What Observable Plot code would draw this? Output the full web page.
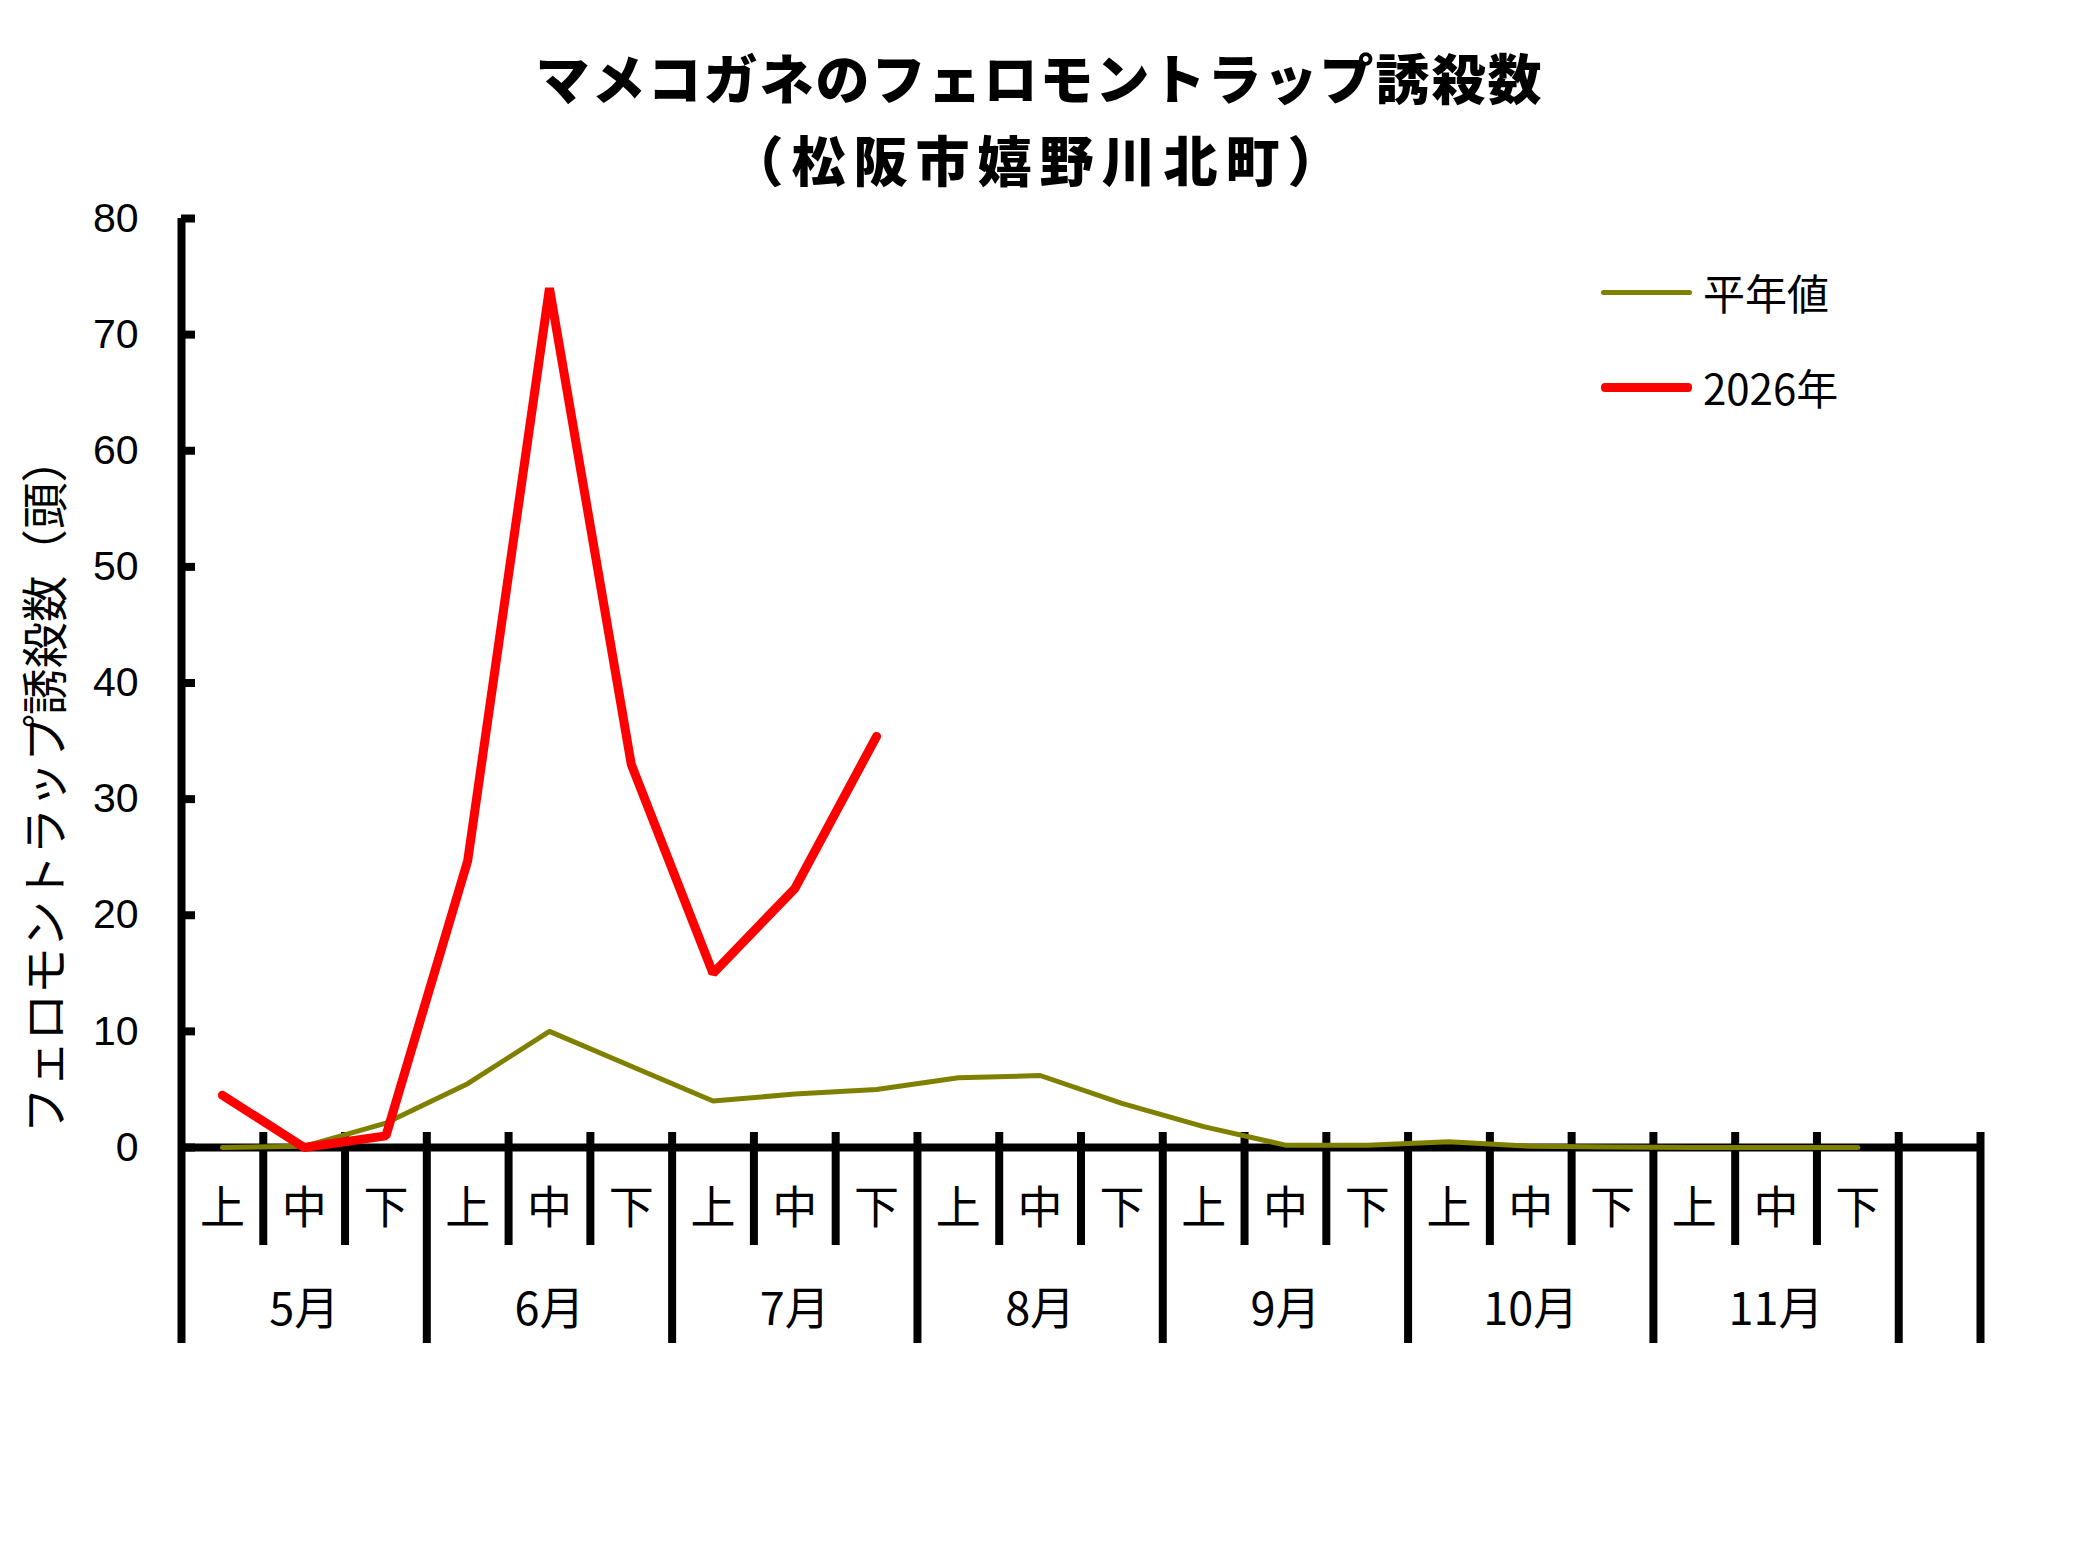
<!DOCTYPE html>
<html>
<head>
<meta charset="utf-8">
<script src="https://cdn.jsdelivr.net/npm/d3@7"></script>
<script src="https://cdn.jsdelivr.net/npm/@observablehq/plot@0.6"></script>
<style>
  body { margin: 0; background: #fff; }
  #wrap { position: relative; width: 2079px; height: 1559px; font-family: "Noto Sans CJK JP", sans-serif; color: #000; }
  #title { position: relative; height: 190px; }
  .t { position: absolute; left: 0; width: 2079px; text-align: center; font-weight: 900; font-size: 54px; line-height: 60px; letter-spacing: 2px; }
  .t1 { top: 47px; }
  .t2 { top: 129px; letter-spacing: 8px; }
  .lg-line { position: absolute; left: 1601px; width: 91px; border-radius: 4px; }
  .lg-text { position: absolute; left: 1703px; font-size: 42px; line-height: 50px; }
</style>
</head>
<body>
<div id="wrap">
  <div id="title">
    <div class="t t1">マメコガネのフェロモントラップ誘殺数</div>
    <div class="t t2">（松阪市嬉野川北町）</div>
  </div>
  <div id="chart"></div>
  <div id="legend"></div>
</div>
<script>
// ---- data ----
const months = ["5月", "6月", "7月", "8月", "9月", "10月", "11月"];
const periods = ["上", "中", "下"];
const seriesNames = ["平年値", "2026年"];
const seriesColors = ["#808000", "#ff0000"];
// 平年値 (5月上 ... 11月下)
const heinen = [0, 0.1, 2.1, 5.5, 10.0, 7.0, 4.0, 4.6, 5.0, 6.0, 6.2, 3.8, 1.8, 0.2, 0.2, 0.5, 0.1, 0.05, 0, 0, 0];
// 2026年 (5月上 ... 7月下)
const y2026 = [4.5, 0, 1.0, 24.7, 74, 33, 15, 22.3, 35.4];
const yTicks = [0, 10, 20, 30, 40, 50, 60, 70, 80];
const yLabel = "フェロモントラップ誘殺数（頭）";
const nSlots = 22; // 7 months x 3 + one empty slot

// ---- derived tables ----
const slots = months.flatMap((m, mi) => periods.map((p, pi) => ({ i: mi * 3 + pi, month: m, period: p })));
const avgData = heinen.map((v, i) => ({ x: i + 0.5, y: v }));
const curData = y2026.map((v, i) => ({ x: i + 0.5, y: v }));
const bounds = d3.range(0, nSlots + 1);
const isMonthBound = b => b % 3 === 0 || b === nSlots;
const minorBounds = bounds.filter(b => !isMonthBound(b));
const monthBounds = bounds.filter(b => isMonthBound(b) && b !== 0);
const monthData = months.map((m, mi) => ({ m, x: mi * 3 + 1.5 }));

const W = 2079, H = 1369, mt = 28, mb = 412, ml = 181, mr = 99;
const frameH = H - mt - mb;
const frameW = W - ml - mr;

const chart = Plot.plot({
  width: W,
  height: H,
  marginTop: mt,
  marginBottom: mb,
  marginLeft: ml,
  marginRight: mr,
  style: { fontFamily: "'Liberation Sans', Arial, sans-serif", background: "transparent", overflow: "visible" },
  x: { type: "linear", domain: [0, nSlots], axis: null },
  y: { domain: [0, 80], ticks: yTicks, axis: null },
  marks: [
    Plot.axisY({ ticks: yTicks, tickSize: 0, tickPadding: 43, fontSize: 41, label: null, tickFormat: d => String(d), fill: "#000", fontFamily: "'Liberation Sans', Arial, sans-serif" }),
    // y ticks pointing inward
    Plot.tickY(yTicks, { y: d => d, stroke: "#000", strokeWidth: 8, insetRight: frameW - 14 }),
    // left axis line extending into the category table
    Plot.ruleX([0], { x: d => d, stroke: "#000", strokeWidth: 8, insetBottom: -196 }),
    // 旬 dividers
    Plot.ruleX(minorBounds, { x: d => d, stroke: "#000", strokeWidth: 8, insetTop: frameH - 15, insetBottom: -98 }),
    // month dividers
    Plot.ruleX(monthBounds, { x: d => d, stroke: "#000", strokeWidth: 8, insetTop: frameH - 15, insetBottom: -196 }),
    // zero line
    Plot.ruleY([0], { y: d => d, stroke: "#000", strokeWidth: 8 }),
    // category labels
    Plot.text(slots, { x: d => d.i + 0.5, frameAnchor: "bottom", text: d => d.period, dy: 76, fontSize: 45, fontFamily: "'Noto Sans CJK JP', sans-serif", fill: "#000" }),
    Plot.text(monthData, { x: d => d.x, frameAnchor: "bottom", text: d => d.m, dy: 177, fontSize: 45, fontFamily: "'Noto Sans CJK JP', sans-serif", fill: "#000" }),
    // y label
    Plot.text([yLabel], { frameAnchor: "bottom-left", text: d => d, rotate: -90, textAnchor: "start", dx: -120, dy: -14, fontSize: 46.5, fontFamily: "'Noto Sans CJK JP', sans-serif", fill: "#000" }),
    // series
    Plot.line(avgData, { x: "x", y: "y", stroke: seriesColors[0], strokeWidth: 5, strokeLinejoin: "miter", strokeLinecap: "round" }),
    Plot.line(curData, { x: "x", y: "y", stroke: seriesColors[1], strokeWidth: 9, strokeLinejoin: "miter", strokeLinecap: "round" })
  ]
});
document.getElementById("chart").appendChild(chart);

// legend
const lg = document.getElementById("legend");
const lgY = [292, 387];
const lgW = [5, 9];
seriesNames.forEach((name, k) => {
  const line = document.createElement("div");
  line.className = "lg-line";
  line.style.top = (lgY[k] - lgW[k] / 2) + "px";
  line.style.height = lgW[k] + "px";
  line.style.background = seriesColors[k];
  lg.appendChild(line);
  const t = document.createElement("div");
  t.className = "lg-text";
  t.style.top = (lgY[k] - 25) + "px";
  t.textContent = name;
  lg.appendChild(t);
});
</script>
</body>
</html>
